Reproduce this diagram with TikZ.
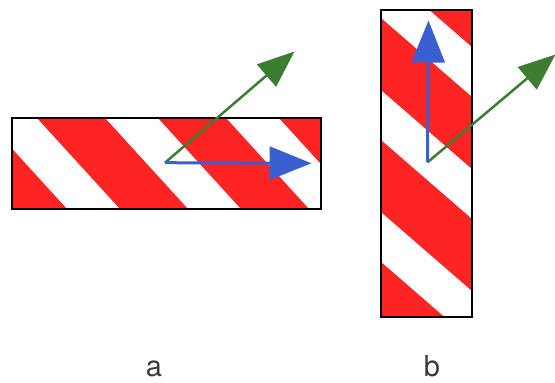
\documentclass[tikz,border=0pt]{standalone}
\usepackage{fontspec}
\setmainfont{TeX Gyre Heros}
\usetikzlibrary{arrows.meta}
\definecolor{tapered}{HTML}{FF2424}
\definecolor{vecblue}{HTML}{3A5FD0}
\definecolor{vecgreen}{HTML}{3C7D32}
\definecolor{labelgray}{HTML}{3A3A3A}
\begin{document}
\begin{tikzpicture}[x=1pt,y=-1pt,
  tapebox/.style={draw=black, line width=2.4pt, inner sep=0pt, outer sep=0pt, fill=none},
  bluevec/.style={draw=vecblue, line width=3pt, -{Triangle[length=42pt,width=33pt,fill=vecblue]}},
  greenvec/.style={draw=vecgreen, line width=2.5pt, -{Triangle[length=37pt,width=29pt,fill=vecgreen]}},
  caption/.style={anchor=base, text=labelgray, font=\fontsize{29}{29}\selectfont, inner sep=0pt}]
\useasboundingbox (0,0) rectangle (555,383);
% stripes of tape a
\begin{scope}
  \clip (12,118) rectangle (321,209);
  \foreach \k in {-1,...,3} {
    \fill[tapered] ({37+121*\k},118) -- ({105+121*\k},118) -- ({188+121*\k},209) -- ({120+121*\k},209) -- cycle;
  }
\end{scope}
% stripes of tape b
\begin{scope}
  \clip (381,10) rectangle (472,317);
  \foreach \k in {-1,...,2} {
    \fill[tapered] (381,{18+122*\k}) -- (472,{97+122*\k}) -- (472,{169+122*\k}) -- (381,{90+122*\k}) -- cycle;
  }
\end{scope}
\node[tapebox, minimum width=309pt, minimum height=91pt] (tapeA) at (166.5,163.5) {};
\node[tapebox, minimum width=91pt, minimum height=307pt] (tapeB) at (426.5,163.5) {};
% vectors
\coordinate (oA) at (165,162.7);
\coordinate (blueA) at (311.5,163.3);
\coordinate (greenA) at (294.5,51.5);
\coordinate (oB) at (427.5,162.3);
\coordinate (blueB) at (428.5,20.5);
\coordinate (greenB) at (555.5,54.5);
\draw[greenvec] (oA) -- (greenA);
\draw[bluevec] (oA) -- (blueA);
\draw[greenvec] (oB) -- (greenB);
\draw[bluevec] (oB) -- (blueB);
% captions
\node[caption] (capA) at (154,376.5) {a};
\node[caption] (capB) at (432,376.5) {b};
\end{tikzpicture}
\end{document}
